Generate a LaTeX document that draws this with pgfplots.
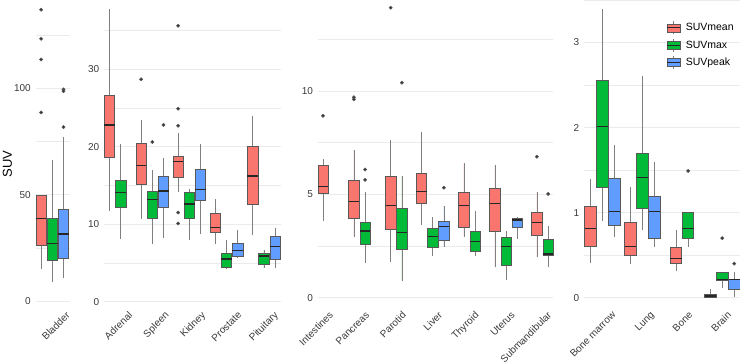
\documentclass[border=0pt]{standalone}
\usepackage{fontspec}
\setmainfont{Liberation Sans}
\usepackage{pgfplots}
\pgfplotsset{compat=1.18}
\usepgfplotslibrary{statistics}

\definecolor{cR}{HTML}{F8766D}
\definecolor{cG}{HTML}{00BA38}
\definecolor{cB}{HTML}{619CFF}
\definecolor{boxline}{HTML}{595959}
\definecolor{whisk}{HTML}{808080}
\definecolor{medc}{HTML}{262626}
\definecolor{outl}{HTML}{333333}
\definecolor{gridc}{HTML}{EBEBEB}
\definecolor{txt}{HTML}{3A3A3A}

% x positions are given in tens of points from each panel's left edge
\pgfplotsset{
  panel/.style={
    scale only axis, height=318pt, enlargelimits=false, clip=false,
    axis line style={draw=none}, major tick length=0pt, minor tick length=0pt,
    ymajorgrids, yminorgrids, xmajorgrids=false,
    major grid style={draw=gridc, line width=0.9pt},
    minor grid style={draw=gridc, line width=0.6pt},
    /pgf/number format/assume math mode=true,
    tick label style={font=\fontsize{10}{12}\selectfont, text=txt},
    yticklabel style={anchor=east, inner sep=0pt, xshift=-4.5pt},
    xticklabel style={rotate=45, anchor=north east, inner sep=0pt, yshift=2pt},
    boxplot/draw direction=y,
    boxplot/whisker extend=0,
  },
  bx/.style={forget plot, draw=boxline, line width=0.55pt,
    mark=*, mark size=1.6pt, mark options={draw=none, fill=outl},
    boxplot/every whisker/.style={draw=whisk, line width=0.6pt},
    boxplot/every median/.style={draw=medc, line width=1.3pt}},
  bxR/.style={bx, fill=cR},
  bxG/.style={bx, fill=cG},
  bxB/.style={bx, fill=cB},
  bxkey/.style={legend image code/.code={
    \draw[whisk, line width=0.6pt] (6.5pt,-6.5pt) -- (6.5pt,6.5pt);
    \draw[draw=boxline, fill=#1, line width=0.55pt] (0pt,-4pt) rectangle (13pt,4pt);
    \draw[medc, line width=1.1pt] (0pt,0pt) -- (13pt,0pt);}},
}

\begin{document}
\begin{tikzpicture}[x=1pt,y=1pt]

% ---------------- Bladder ----------------
\begin{axis}[panel, at={(35.5pt,52pt)}, anchor=south west, width=34pt,
  xmin=0, xmax=3.4, ymin=-5.17, ymax=144.4,
  ytick={0,50,100}, minor ytick={25,75,125},
  xtick={3.12}, xticklabels={Bladder},
  boxplot/box extend=1.04]
\addplot[bxR, boxplot prepared={draw position=0.56, lower whisker=15.2, lower quartile=26.1, median=38.8, upper quartile=49.5, upper whisker=49.5}]
  table[row sep=\\, y index=0] {v\\ 137\\ 123.3\\ 113.6\\ 88.7\\};
\addplot[bxG, boxplot prepared={draw position=1.68, lower whisker=9.1, lower quartile=19.2, median=27.1, upper quartile=38.8, upper whisker=66.5}]
  coordinates {};
\addplot[bxB, boxplot prepared={draw position=2.80, lower whisker=10.6, lower quartile=20.3, median=31.5, upper quartile=43.3, upper whisker=77.1}]
  table[row sep=\\, y index=0] {v\\ 99.5\\ 98.7\\ 81.8\\};
\end{axis}

% ---------------- Adrenal ... Pituitary ----------------
\begin{axis}[panel, at={(104pt,52pt)}, anchor=south west, width=177pt,
  xmin=0, xmax=17.7, ymin=-1.329, ymax=39.70,
  ytick={0,10,20,30}, minor ytick={5,15,25,35},
  xtick={2.53,6.17,9.81,13.45,17.09},
  xticklabels={Adrenal,Spleen,Kidney,Prostate,Pituitary},
  boxplot/box extend=1.04]
% Adrenal
\addplot[bxR, boxplot prepared={draw position=0.54, lower whisker=11.7, lower quartile=18.6, median=22.8, upper quartile=26.6, upper whisker=37.7}] coordinates {};
\addplot[bxG, boxplot prepared={draw position=1.66, lower whisker=8.05, lower quartile=12.2, median=14.1, upper quartile=15.7, upper whisker=20.4}] coordinates {};
% Spleen
\addplot[bxR, boxplot prepared={draw position=3.71, lower whisker=10.7, lower quartile=15.1, median=17.6, upper quartile=20.4, upper whisker=23.4}]
  table[row sep=\\, y index=0] {v\\ 28.7\\};
\addplot[bxG, boxplot prepared={draw position=4.83, lower whisker=7.5, lower quartile=10.8, median=13.2, upper quartile=14.3, upper whisker=17.0}]
  table[row sep=\\, y index=0] {v\\ 20.6\\};
\addplot[bxB, boxplot prepared={draw position=5.95, lower whisker=8.2, lower quartile=12.2, median=14.3, upper quartile=16.2, upper whisker=18.5}]
  table[row sep=\\, y index=0] {v\\ 22.8\\};
% Kidney
\addplot[bxR, boxplot prepared={draw position=7.41, lower whisker=14.2, lower quartile=16.1, median=18.1, upper quartile=18.7, upper whisker=21.8}]
  table[row sep=\\, y index=0] {v\\ 35.6\\ 24.9\\ 22.7\\ 11.5\\ 10.1\\};
\addplot[bxG, boxplot prepared={draw position=8.53, lower whisker=7.9, lower quartile=10.7, median=12.6, upper quartile=14.1, upper whisker=14.6}] coordinates {};
\addplot[bxB, boxplot prepared={draw position=9.65, lower whisker=8.7, lower quartile=13.1, median=14.5, upper quartile=17.1, upper whisker=20.4}] coordinates {};
% Prostate
\addplot[bxR, boxplot prepared={draw position=11.12, lower whisker=7.5, lower quartile=9.0, median=9.6, upper quartile=11.4, upper whisker=13.2}] coordinates {};
\addplot[bxG, boxplot prepared={draw position=12.24, lower whisker=4.2, lower quartile=4.5, median=5.5, upper quartile=6.2, upper whisker=7.9}] coordinates {};
\addplot[bxB, boxplot prepared={draw position=13.36, lower whisker=5.7, lower quartile=5.8, median=6.6, upper quartile=7.6, upper whisker=9.3}] coordinates {};
% Pituitary
\addplot[bxR, boxplot prepared={draw position=14.86, lower whisker=8.6, lower quartile=12.6, median=16.2, upper quartile=20.1, upper whisker=24.0}] coordinates {};
\addplot[bxG, boxplot prepared={draw position=15.98, lower whisker=4.3, lower quartile=4.8, median=5.9, upper quartile=6.2, upper whisker=6.7}] coordinates {};
\addplot[bxB, boxplot prepared={draw position=17.10, lower whisker=4.3, lower quartile=5.5, median=7.1, upper quartile=8.4, upper whisker=9.5}] coordinates {};
\end{axis}

% ---------------- Intestines ... Submandibular ----------------
\begin{axis}[panel, at={(317.7pt,52pt)}, anchor=south west, width=235pt,
  xmin=0, xmax=23.5, ymin=-0.692, ymax=14.693,
  ytick={0,5,10}, minor ytick={2.5,7.5,12.5},
  xtick={1.23,4.87,8.51,12.15,15.79,19.43,23.07},
  xticklabels={Intestines,Pancreas,Parotid,Liver,Thyroid,Uterus,Submandibular},
  boxplot/box extend=1.04]
% Intestines
\addplot[bxR, boxplot prepared={draw position=0.53, lower whisker=3.73, lower quartile=5.05, median=5.37, upper quartile=6.4, upper whisker=6.7}]
  table[row sep=\\, y index=0] {v\\ 8.8\\};
% Pancreas
\addplot[bxR, boxplot prepared={draw position=3.62, lower whisker=2.95, lower quartile=3.84, median=4.64, upper quartile=5.66, upper whisker=7.15}]
  table[row sep=\\, y index=0] {v\\ 9.7\\ 9.6\\};
\addplot[bxG, boxplot prepared={draw position=4.74, lower whisker=1.66, lower quartile=2.58, median=3.23, upper quartile=3.65, upper whisker=5.13}]
  table[row sep=\\, y index=0] {v\\ 6.2\\ 5.7\\};
% Parotid
\addplot[bxR, boxplot prepared={draw position=7.30, lower whisker=1.74, lower quartile=3.31, median=4.45, upper quartile=5.89, upper whisker=7.63}]
  table[row sep=\\, y index=0] {v\\ 14.03\\};
\addplot[bxG, boxplot prepared={draw position=8.42, lower whisker=0.82, lower quartile=2.36, median=3.15, upper quartile=4.31, upper whisker=5.89}]
  table[row sep=\\, y index=0] {v\\ 10.4\\};
% Liver
\addplot[bxR, boxplot prepared={draw position=10.38, lower whisker=3.52, lower quartile=4.57, median=5.15, upper quartile=6.02, upper whisker=8.0}] coordinates {};
\addplot[bxG, boxplot prepared={draw position=11.50, lower whisker=2.02, lower quartile=2.42, median=2.95, upper quartile=3.34, upper whisker=3.92}] coordinates {};
\addplot[bxB, boxplot prepared={draw position=12.62, lower whisker=2.47, lower quartile=2.79, median=3.43, upper quartile=3.70, upper whisker=4.44}]
  table[row sep=\\, y index=0] {v\\ 5.32\\};
% Thyroid
\addplot[bxR, boxplot prepared={draw position=14.62, lower whisker=2.95, lower quartile=3.43, median=4.45, upper quartile=5.11, upper whisker=6.5}] coordinates {};
\addplot[bxG, boxplot prepared={draw position=15.74, lower whisker=2.02, lower quartile=2.27, median=2.73, upper quartile=3.19, upper whisker=4.21}] coordinates {};
% Uterus
\addplot[bxR, boxplot prepared={draw position=17.71, lower whisker=1.47, lower quartile=3.21, median=4.57, upper quartile=5.29, upper whisker=6.42}] coordinates {};
\addplot[bxG, boxplot prepared={draw position=18.83, lower whisker=0.86, lower quartile=1.57, median=2.47, upper quartile=2.92, upper whisker=3.23}] coordinates {};
\addplot[bxB, boxplot prepared={draw position=19.95, lower whisker=2.84, lower quartile=3.43, median=3.76, upper quartile=3.82, upper whisker=3.92}] coordinates {};
% Submandibular
\addplot[bxR, boxplot prepared={draw position=21.92, lower whisker=1.95, lower quartile=3.03, median=3.65, upper quartile=4.15, upper whisker=5.1}]
  table[row sep=\\, y index=0] {v\\ 6.82\\};
\addplot[bxG, boxplot prepared={draw position=23.04, lower whisker=1.47, lower quartile=2.07, median=2.11, upper quartile=2.83, upper whisker=3.48}]
  table[row sep=\\, y index=0] {v\\ 5.02\\};
\end{axis}

% ---------------- Bone marrow ... Brain ----------------
\begin{axis}[panel, at={(584pt,52pt)}, anchor=south west, width=156pt,
  xmin=0, xmax=15.6, ymin=-0.168, ymax=3.569,
  ytick={0,1,2,3}, minor ytick={0.5,1.5,2.5,3.5},
  xtick={2.87,6.72,10.57,14.42},
  xticklabels={Bone marrow,Lung,Bone,Brain},
  boxplot/box extend=1.13,
  legend style={draw=none, fill=none, inner sep=0pt, outer sep=0pt,
    at={(rel axis cs:0.530,0.9151)}, anchor=north west,
    font=\fontsize{10.5}{12}\selectfont, row sep=3.7pt, column sep=5pt,
    nodes={inner sep=0pt}},
  legend cell align=left]
% Bone marrow
\addplot[bxR, boxplot prepared={draw position=0.62, lower whisker=0.41, lower quartile=0.60, median=0.81, upper quartile=1.07, upper whisker=1.40}] coordinates {};
\addplot[bxG, boxplot prepared={draw position=1.82, lower whisker=0.90, lower quartile=1.30, median=2.01, upper quartile=2.55, upper whisker=3.39}] coordinates {};
\addplot[bxB, boxplot prepared={draw position=3.02, lower whisker=0.71, lower quartile=0.85, median=1.01, upper quartile=1.40, upper whisker=1.79}] coordinates {};
% Lung
\addplot[bxR, boxplot prepared={draw position=4.62, lower whisker=0.40, lower quartile=0.50, median=0.60, upper quartile=0.89, upper whisker=1.30}] coordinates {};
\addplot[bxG, boxplot prepared={draw position=5.82, lower whisker=0.80, lower quartile=1.05, median=1.41, upper quartile=1.70, upper whisker=2.60}] coordinates {};
\addplot[bxB, boxplot prepared={draw position=7.02, lower whisker=0.60, lower quartile=0.70, median=1.01, upper quartile=1.19, upper whisker=1.60}] coordinates {};
% Bone
\addplot[bxR, boxplot prepared={draw position=9.21, lower whisker=0.31, lower quartile=0.40, median=0.46, upper quartile=0.59, upper whisker=0.80}] coordinates {};
\addplot[bxG, boxplot prepared={draw position=10.41, lower whisker=0.60, lower quartile=0.70, median=0.81, upper quartile=1.00, upper whisker=1.00}]
  table[row sep=\\, y index=0] {v\\ 1.49\\};
% Brain
\addplot[bxR, boxplot prepared={draw position=12.62, lower whisker=0.0, lower quartile=0.0, median=0.02, upper quartile=0.04, upper whisker=0.10}] coordinates {};
\addplot[bxG, boxplot prepared={draw position=13.82, lower whisker=0.11, lower quartile=0.21, median=0.21, upper quartile=0.30, upper whisker=0.30}]
  table[row sep=\\, y index=0] {v\\ 0.70\\};
\addplot[bxB, boxplot prepared={draw position=15.02, lower whisker=0.01, lower quartile=0.10, median=0.21, upper quartile=0.22, upper whisker=0.30}]
  table[row sep=\\, y index=0] {v\\ 0.40\\};
% legend keys
\addlegendimage{bxkey=cR}\addlegendentry{SUVmean}
\addlegendimage{bxkey=cG}\addlegendentry{SUVmax}
\addlegendimage{bxkey=cB}\addlegendentry{SUVpeak}
\end{axis}

\node[rotate=90, font=\fontsize{13}{15}\selectfont, text=black] at (7.5pt,200pt) {SUV};

\pgfresetboundingbox
\useasboundingbox (0pt,0pt) rectangle (740pt,364pt);
\end{tikzpicture}
\end{document}
